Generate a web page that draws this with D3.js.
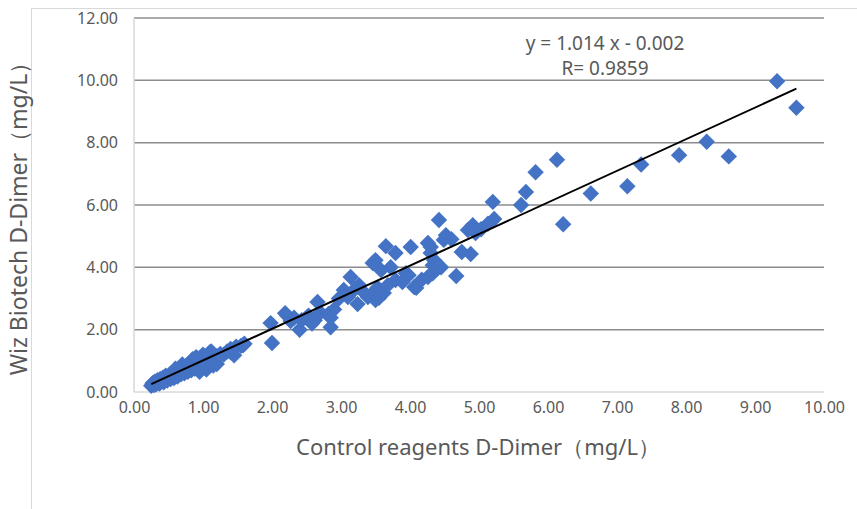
<!DOCTYPE html>
<html>
<head>
<meta charset="utf-8">
<script src="https://cdn.jsdelivr.net/npm/d3@7"></script>
<style>
  body { margin: 0; background: #fff; }
  text { font-family: "Noto Sans", "Open Sans", sans-serif; fill: #595959; }
</style>
</head>
<body>
<div id="chart"></div>
<script>
// control reagent (x) vs Wiz Biotech (y), mg/L
var controlVals = [
  0.25,0.27,0.29,0.30,0.32,0.34,0.35,0.37,0.38,0.40,0.42,0.43,0.45,0.46,0.48,0.50,0.52,0.53,0.55,0.57,
  0.58,0.60,0.62,0.63,0.65,0.67,0.68,0.70,0.72,0.73,0.75,0.77,0.78,0.80,0.82,0.83,0.85,0.85,0.87,0.88,
  0.90,0.92,0.93,0.95,0.95,0.97,0.98,1.00,1.02,1.04,1.05,1.06,1.08,1.10,1.10,1.12,1.15,1.15,1.20,1.20,
  1.25,1.30,1.35,1.40,1.40,1.45,1.45,1.48,1.55,1.58,1.60,0.70,0.90,1.00,0.60,
  1.98,2.00,2.19,2.22,2.27,2.32,2.40,2.43,2.50,2.53,2.58,2.62,2.66,2.70,2.82,2.85,2.85,2.90,2.97,3.04,
  3.10,3.14,3.20,3.24,3.26,3.33,3.39,3.43,3.46,3.50,3.50,3.53,3.55,3.58,3.62,3.65,3.68,3.72,3.79,3.79,
  3.89,3.94,3.98,4.01,4.06,4.09,
  4.17,4.26,4.26,4.30,4.30,4.33,4.33,4.35,4.39,4.42,4.45,4.49,4.52,4.60,4.67,4.75,4.84,4.88,4.91,4.95,
  5.03,5.13,5.20,5.22,5.61,5.68,5.82,6.13,6.22,6.62,7.15,7.35,7.90,8.30,8.62,9.32,9.60
];
var wizVals = [
  0.20,0.28,0.22,0.33,0.25,0.38,0.30,0.27,0.42,0.35,0.46,0.31,0.40,0.52,0.37,0.47,0.56,0.42,0.50,0.62,
  0.45,0.55,0.68,0.50,0.60,0.73,0.57,0.66,0.80,0.60,0.70,0.85,0.65,0.76,0.92,0.70,0.82,1.05,0.98,0.75,
  0.88,1.05,0.78,0.92,0.65,1.10,0.83,0.97,0.80,1.05,0.72,0.90,1.18,1.00,1.28,1.30,1.08,0.85,1.15,0.90,
  1.22,1.20,1.30,1.38,1.28,1.18,1.38,1.45,1.48,1.50,1.55,0.88,1.12,1.20,0.75,
  2.21,1.57,2.53,2.45,2.28,2.38,2.00,2.30,2.38,2.45,2.20,2.30,2.89,2.55,2.50,2.08,2.38,2.65,3.00,3.27,
  3.05,3.69,3.30,2.82,3.43,3.20,3.05,3.11,4.14,2.95,4.23,3.35,3.02,3.91,3.18,4.68,3.43,4.00,4.46,3.59,
  3.53,3.81,3.75,4.65,3.37,3.34,
  3.60,3.69,4.78,4.65,4.46,4.07,3.81,4.23,3.95,5.52,4.00,4.88,5.03,4.90,3.72,4.49,5.20,4.43,5.35,5.10,
  5.22,5.40,6.10,5.55,6.00,6.42,7.05,7.45,5.38,6.37,6.60,7.30,7.60,8.03,7.56,9.97,9.12
];
var xTicks = [0,1,2,3,4,5,6,7,8,9,10];
var yTicks = [0,2,4,6,8,10,12];
var slope = 1.014, intercept = -0.002;
var eqLabels = ["y = 1.014 x - 0.002", "R= 0.9859"];

var W = 857, H = 509;
var plotL = 134, plotR = 824, plotT = 18, plotB = 392;

var svg = d3.select("#chart").append("svg").attr("width", W).attr("height", H);

// outer chart frame (cut off at right and bottom like the picture)
svg.append("rect")
    .attr("x", 31.5).attr("y", 8.5)
    .attr("width", 900).attr("height", 600)
    .attr("fill", "none").attr("stroke", "#d9d9d9").attr("stroke-width", 1);

var x = d3.scaleLinear().domain([0, 10]).range([plotL, plotR]);
var y = d3.scaleLinear().domain([0, 12]).range([plotB, plotT]);

// horizontal grid
svg.append("g")
    .selectAll("line")
    .data(yTicks.filter(function(d) { return d > 0; }))
    .enter().append("line")
    .attr("x1", plotL).attr("x2", plotR)
    .attr("y1", function(d) { return y(d); })
    .attr("y2", function(d) { return y(d); })
    .attr("stroke", "#8c8c8c").attr("stroke-width", 1.5);

// axes lines
svg.append("line").attr("x1", plotL).attr("x2", plotL).attr("y1", plotT).attr("y2", plotB)
    .attr("stroke", "#d9d9d9").attr("stroke-width", 1.5);
svg.append("line").attr("x1", plotL).attr("x2", plotR).attr("y1", plotB).attr("y2", plotB)
    .attr("stroke", "#d9d9d9").attr("stroke-width", 1.5);

var yAxis = svg.append("g")
    .attr("transform", "translate(" + plotL + ",0)")
    .call(d3.axisLeft(y).tickValues(yTicks).tickFormat(d3.format(".2f")).tickSize(0).tickPadding(16));
var xAxis = svg.append("g")
    .attr("transform", "translate(0," + plotB + ")")
    .call(d3.axisBottom(x).tickValues(xTicks).tickFormat(d3.format(".2f")).tickSize(0).tickPadding(10));
[yAxis, xAxis].forEach(function(a) {
    a.select(".domain").remove();
    a.selectAll("text").style("font-size", "16px").attr("fill", "#595959")
        .style("font-family", "\"Noto Sans\", sans-serif");
});

// points as diamonds
var pts = controlVals.map(function(v, i) { return [v, wizVals[i]]; });
var diamond = d3.symbol().type(d3.symbolSquare).size(135);
svg.append("g")
    .selectAll("path")
    .data(pts)
    .enter().append("path")
    .attr("d", diamond)
    .attr("transform", function(d) { return "translate(" + x(d[0]) + "," + y(d[1]) + ") rotate(45)"; })
    .attr("fill", "#4472c4");

// linear trend line over the data range
var xMin = d3.min(controlVals), xMax = d3.max(controlVals);
svg.append("line")
    .attr("x1", x(xMin)).attr("y1", y(slope * xMin + intercept))
    .attr("x2", x(xMax)).attr("y2", y(slope * xMax + intercept))
    .attr("stroke", "#000").attr("stroke-width", 2);

// equation
svg.append("g").selectAll("text")
    .data(eqLabels)
    .enter().append("text")
    .attr("x", 605)
    .attr("y", function(d, i) { return 50 + i * 25; })
    .attr("text-anchor", "middle")
    .style("font-size", "19px")
    .text(function(d) { return d; });

// axis titles
svg.append("text")
    .attr("x", 478).attr("y", 455)
    .attr("text-anchor", "middle")
    .style("font-size", "22px")
    .text("Control reagents D-Dimer（mg/L）");
svg.append("text")
    .attr("transform", "translate(27,213) rotate(-90)")
    .attr("text-anchor", "middle")
    .style("font-size", "23px")
    .text("Wiz Biotech D-Dimer（mg/L）");
</script>
</body>
</html>
